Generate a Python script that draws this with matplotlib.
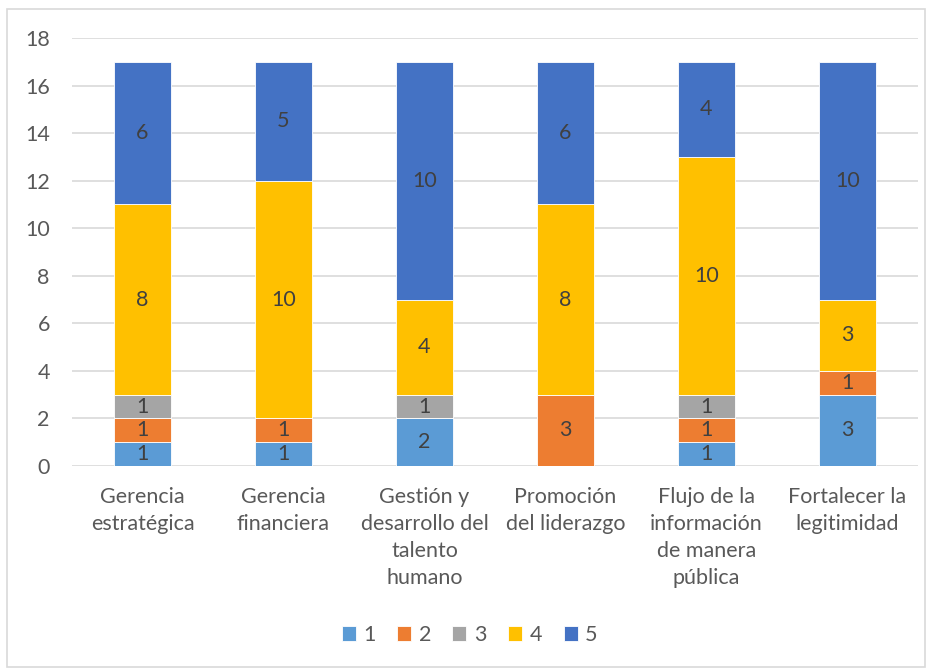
import numpy as np
import matplotlib.pyplot as plt
from matplotlib.patches import Rectangle

plt.rcParams['font.family'] = ['Lato', 'DejaVu Sans']

categories = ['Gerencia\nestratégica', 'Gerencia\nfinanciera',
              'Gestión y\ndesarrollo del\ntalento\nhumano',
              'Promoción\ndel liderazgo',
              'Flujo de la\ninformación\nde manera\npública',
              'Fortalecer la\nlegitimidad']
series_names = ['1', '2', '3', '4', '5']
s1 = [1, 1, 2, 0, 1, 3]
s2 = [1, 1, 0, 3, 1, 1]
s3 = [1, 0, 1, 0, 1, 0]
s4 = [8, 10, 4, 8, 10, 3]
s5 = [6, 5, 10, 6, 4, 10]
colors = ['#5B9BD5', '#ED7D31', '#A5A5A5', '#FFC000', '#4472C4']

text_color = '#595959'
fs = 15.5
fig = plt.figure(figsize=(9.3, 6.69), dpi=100)
fig.patches.append(Rectangle((7 / 930, 2 / 669), 918 / 930, 658 / 669,
                             transform=fig.transFigure, fill=False,
                             edgecolor='#D9D9D9', linewidth=1.2))
ax = fig.add_axes([0.0774, 0.3034, 0.9096, 0.6398])

x = np.arange(len(categories))
bottom = np.zeros(len(categories))
for name, vals, c in zip(series_names, [s1, s2, s3, s4, s5], colors):
    vals = np.array(vals, dtype=float)
    ax.bar(x, vals, 0.4, bottom=bottom, color=c, label=name,
           edgecolor='white', linewidth=0.6, zorder=3)
    for xi, b, v in zip(x, bottom, vals):
        if v > 0:
            ax.text(xi, b + v / 2, f'{int(v)}', ha='center', va='center',
                    fontsize=fs, color='#404040', zorder=4)
    bottom += vals

ax.set_xlim(-0.5, len(categories) - 0.5)
ax.set_ylim(0, 18)
ax.set_yticks(range(0, 19, 2))
ax.set_xticks(x)
ax.set_xticklabels(categories, fontsize=fs, color=text_color, linespacing=1.45)
ax.tick_params(axis='y', labelsize=fs, labelcolor=text_color, length=0, pad=16)
ax.tick_params(axis='x', length=0, pad=15)
ax.grid(axis='y', color='#D9D9D9', linewidth=1.2, zorder=0)
for sp in ax.spines.values():
    sp.set_visible(False)

ax.legend(loc='center', bbox_to_anchor=(0.47, -0.395), ncol=5, frameon=False,
          fontsize=fs, labelcolor=text_color, handlelength=0.65,
          handleheight=0.65, handletextpad=0.35, columnspacing=1.0)

fig.savefig('out.png', dpi=100)
